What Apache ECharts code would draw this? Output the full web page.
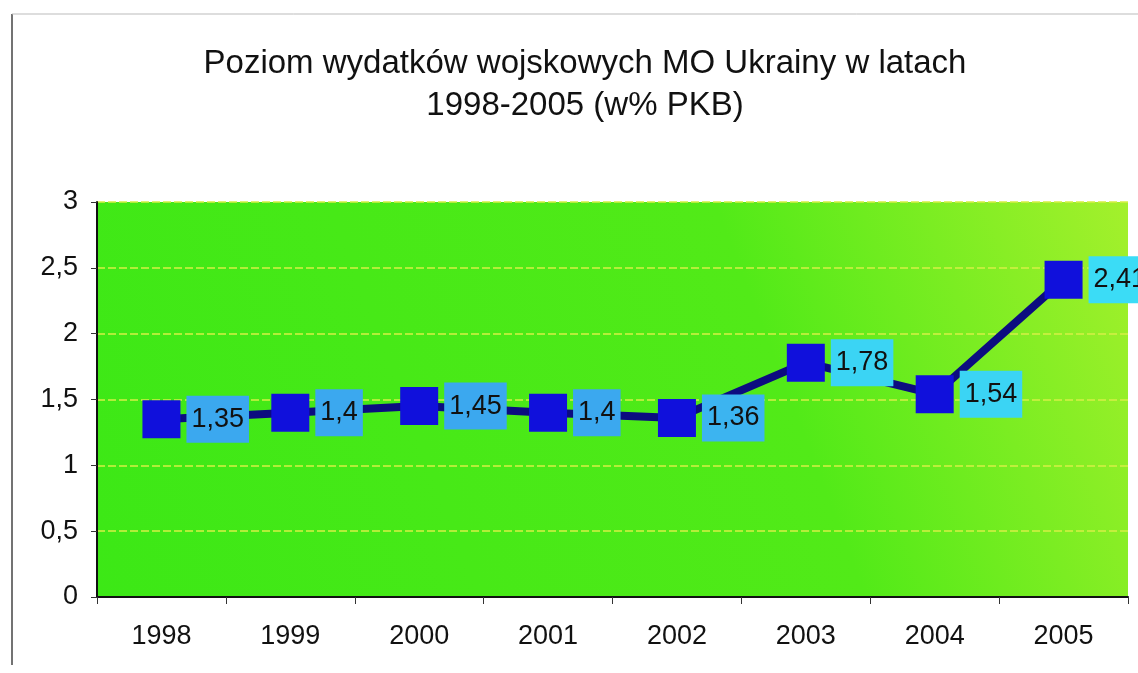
<!DOCTYPE html>
<html>
<head>
<meta charset="utf-8">
<script src="https://cdn.jsdelivr.net/npm/echarts@6/dist/echarts.min.js"></script>
<style>
  html, body { margin: 0; padding: 0; background: #fff; }
  #chart { width: 1138px; height: 673px; }
</style>
</head>
<body>
<div id="chart"></div>
<script>
// dane
var years = ['1998', '1999', '2000', '2001', '2002', '2003', '2004', '2005'];
var wydatki = [1.35, 1.4, 1.45, 1.4, 1.36, 1.78, 1.54, 2.41];
var labelColors = ['#3ba8ef', '#3ba8ef', '#3ba8ef', '#3ba8ef', '#3cb4f0', '#3bd4f4', '#3bd4f4', '#3bdcf6'];

var chart = echarts.init(document.getElementById('chart'));

function fmt(v) {
    return String(v).replace('.', ',');
}

var option = {
    animation: false,
    title: {
        text: 'Poziom wydatków wojskowych MO Ukrainy w latach\n1998-2005 (w% PKB)',
        left: 580,
        textAlign: 'center',
        top: 38,
        textStyle: {
            fontFamily: 'Liberation Sans',
            fontWeight: 'normal',
            fontSize: 33,
            lineHeight: 42,
            color: '#111'
        }
    },
    graphic: [
        { type: 'line', shape: { x1: 12, y1: 14, x2: 12, y2: 665 }, style: { stroke: '#444', lineWidth: 1.5 } },
        { type: 'line', shape: { x1: 12, y1: 14, x2: 1138, y2: 14 }, style: { stroke: '#bbb', lineWidth: 1 } }
    ],
    grid: {
        left: 97,
        right: 10,
        top: 202,
        bottom: 76,
        show: true,
        borderWidth: 0,
        backgroundColor: new echarts.graphic.LinearGradient(0, 1, 1, 0, [
            { offset: 0, color: '#3ce816' },
            { offset: 0.65, color: '#52ea18' },
            { offset: 1, color: '#a4f02c' }
        ])
    },
    xAxis: {
        type: 'category',
        data: years,
        boundaryGap: true,
        axisLine: { lineStyle: { color: '#111', width: 2 } },
        axisTick: { show: true, inside: false, length: 7, lineStyle: { color: '#333' } },
        axisLabel: {
            margin: 26,
            fontFamily: 'Liberation Sans',
            fontSize: 27,
            color: '#111'
        },
        splitLine: { show: false }
    },
    yAxis: {
        type: 'value',
        min: 0,
        max: 3,
        interval: 0.5,
        axisLine: { show: true, lineStyle: { color: '#111', width: 2 } },
        axisTick: { show: true, length: 6, lineStyle: { color: '#333' } },
        axisLabel: {
            margin: 19,
            fontFamily: 'Liberation Sans',
            fontSize: 27,
            color: '#111',
            formatter: function (v) { return fmt(v); }
        },
        splitLine: { show: true, lineStyle: { color: '#d6f046', width: 1.5, type: [8, 3] } }
    },
    series: [{
        type: 'line',
        data: wydatki.map(function (v, i) {
            return { value: v, label: { backgroundColor: labelColors[i] } };
        }),
        lineStyle: { color: '#0c0c80', width: 8 },
        symbol: 'rect',
        symbolSize: 38,
        itemStyle: { color: '#1010dc' },
        label: {
            show: true,
            position: 'right',
            distance: 6,
            fontFamily: 'Liberation Sans',
            fontSize: 27,
            color: '#111',
            padding: [12, 5, 8, 5],
            formatter: function (p) { return fmt(p.value); }
        },
        z: 3
    }]
};

chart.setOption(option);
</script>
</body>
</html>
